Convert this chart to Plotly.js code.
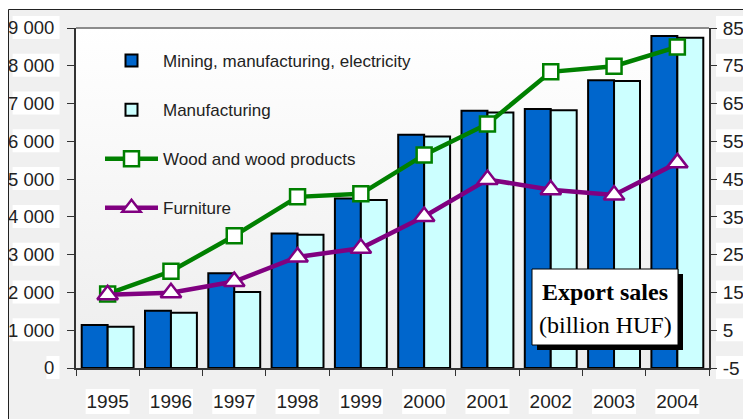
<!DOCTYPE html>
<html>
<head>
<meta charset="utf-8">
<script src="https://cdn.plot.ly/plotly-3.0.1.min.js"></script>
<style>
  html, body { margin: 0; padding: 0; background: #ffffff; }
  #chart { width: 743px; height: 419px; }
</style>
</head>
<body>
<div id="chart"></div>
<script>
// ---- data ----
const years = ['1995','1996','1997','1998','1999','2000','2001','2002','2003','2004'];
const miningManufElectricity = [1140, 1515, 2505, 3560, 4490, 6175, 6810, 6855, 7620, 8785];
const manufacturing = [1090, 1465, 2010, 3525, 4445, 6130, 6760, 6825, 7595, 8740];
const woodProducts = [14.6, 20.6, 30.0, 40.3, 41.1, 51.4, 59.6, 73.4, 74.9, 80.0];
const furniture = [14.4, 14.9, 17.9, 24.4, 26.7, 35.1, 44.9, 42.2, 40.8, 49.3];
const leftTicks = [0, 1000, 2000, 3000, 4000, 5000, 6000, 7000, 8000, 9000];
const leftTickText = ['0', '1 000', '2 000', '3 000', '4 000', '5 000', '6 000', '7 000', '8 000', '9 000'];
const rightTicks = [-5, 5, 15, 25, 35, 45, 55, 65, 75, 85];
const rightTickText = ['-5', '5', '15', '25', '35', '45', '55', '65', '75', '85'];
const legendNames = ['Mining, manufacturing, electricity', 'Manufacturing', 'Wood and wood products', 'Furniture'];
const boxLine1 = 'Export sales';
const boxLine2 = '(billion HUF)';

const SANS = '"Liberation Sans", Arial, Helvetica, sans-serif';
const SERIF = '"Liberation Serif", "Times New Roman", Times, serif';

const traces = [
  { type: 'bar', name: legendNames[0], x: years, y: miningManufElectricity,
    marker: { color: '#0066CC', line: { color: '#000000', width: 2 } }, legendgroup: 'a' },
  { type: 'bar', name: legendNames[1], x: years, y: manufacturing,
    marker: { color: '#CCFFFF', line: { color: '#000000', width: 2 } }, legendgroup: 'b' },
  { type: 'scatter', mode: 'lines+markers', name: legendNames[2], x: years, y: woodProducts, yaxis: 'y2',
    line: { color: '#008000', width: 4.5 },
    marker: { symbol: 'square', size: 15, color: '#ffffff', line: { color: '#008000', width: 2.5 } }, legendgroup: 'c' },
  { type: 'scatter', mode: 'lines+markers', name: legendNames[3], x: years, y: furniture, yaxis: 'y2',
    line: { color: '#800080', width: 4.5 },
    marker: { symbol: 'triangle-up', size: 18, color: '#ffffff', line: { color: '#800080', width: 2.5 } }, legendgroup: 'd' }
];

const W = 743, H = 419, ML = 76, MR = 34, MT = 28, MB = 51;
const PW = W - ML - MR, PH = H - MT - MB;
const px = v => (v - ML) / PW;
const py = v => (H - MB - v) / PH;

const gradSvg = "<svg xmlns='http://www.w3.org/2000/svg' width='10' height='100' preserveAspectRatio='none'>" +
  "<defs><linearGradient id='g' x1='0' y1='0' x2='0' y2='1'><stop offset='0' stop-color='#ffffff'/>" +
  "<stop offset='1' stop-color='#ededed'/></linearGradient></defs><rect width='10' height='100' fill='url(#g)'/></svg>";

const shapes = [];
// white outer margin + frame
shapes.push({ type: 'rect', xref: 'paper', yref: 'paper', x0: px(-5), x1: px(8), y0: py(430), y1: py(-5), fillcolor: '#ffffff', line: { width: 0 }, layer: 'below' });
shapes.push({ type: 'rect', xref: 'paper', yref: 'paper', x0: px(-5), x1: px(760), y0: py(9), y1: py(-5), fillcolor: '#ffffff', line: { width: 0 }, layer: 'below' });
shapes.push({ type: 'line', xref: 'paper', yref: 'paper', x0: px(8.5), x1: px(8.5), y0: py(9.5), y1: py(430), line: { color: '#222222', width: 1 } });
shapes.push({ type: 'line', xref: 'paper', yref: 'paper', x0: px(8.5), x1: px(760), y0: py(9.5), y1: py(9.5), line: { color: '#222222', width: 1 } });
// white boxes behind tick labels
leftTicks.forEach((t, i) => {
  const s = leftTickText[i];
  const w = s.replace(/ /g, '').length * 9.6 + (s.split(' ').length - 1) * 5 + 3;
  const yc = 368 - t / 1000 * 37.78;
  shapes.push({ type: 'rect', xref: 'paper', yref: 'paper', x0: px(59 - w), x1: px(59.5), y0: py(yc + 11), y1: py(yc - 12), fillcolor: '#ffffff', line: { width: 0 }, layer: 'below' });
});
rightTicks.forEach(t => {
  const yc = 368 - (t + 5) * 3.778;
  shapes.push({ type: 'rect', xref: 'paper', yref: 'paper', x0: px(716), x1: px(760), y0: py(yc + 11), y1: py(yc - 12), fillcolor: '#ffffff', line: { width: 0 }, layer: 'below' });
});
years.forEach((y, i) => {
  const xc = ML + (i + 0.5) * PW / years.length;
  shapes.push({ type: 'rect', xref: 'paper', yref: 'paper', x0: px(xc - 22), x1: px(xc + 22), y0: py(414), y1: py(389), fillcolor: '#ffffff', line: { width: 0 }, layer: 'below' });
});
// top border of plot
shapes.push({ type: 'line', xref: 'paper', yref: 'paper', x0: 0, x1: 1, y0: 1, y1: 1, line: { color: '#8c8c8c', width: 2 } });
// export sales box with shadow
shapes.push({ type: 'rect', xref: 'paper', yref: 'paper', x0: px(537), x1: px(683), y0: py(350), y1: py(274), fillcolor: '#000000', line: { width: 0 } });
shapes.push({ type: 'rect', xref: 'paper', yref: 'paper', x0: px(532), x1: px(678), y0: py(345), y1: py(269), fillcolor: '#ffffff', line: { color: '#000000', width: 1 } });

const layout = {
  width: W, height: H,
  margin: { l: ML, r: MR, t: MT, b: MB, pad: 0 },
  paper_bgcolor: '#f0f0f0',
  plot_bgcolor: 'rgba(0,0,0,0)',
  barmode: 'group', bargap: 0.18, bargroupgap: 0,
  showlegend: true,
  legend: { x: px(100), y: py(43), xanchor: 'left', yanchor: 'top', bgcolor: 'rgba(0,0,0,0)',
    font: { family: SANS, size: 17, color: '#222222' }, itemwidth: 53, tracegroupgap: 24, traceorder: 'grouped' },
  xaxis: { type: 'category', range: [-0.5, 9.5], tickson: 'boundaries', ticks: 'outside', ticklen: 6, tickcolor: '#333333',
    showline: true, linecolor: '#333333', linewidth: 2, showgrid: false, zeroline: false,
    tickfont: { family: SANS, size: 19, color: '#222222' }, ticklabelstandoff: 15, automargin: false },
  yaxis: { range: [0, 9000], tickmode: 'array', tickvals: leftTicks, ticktext: leftTickText,
    ticks: 'outside', ticklen: 7, tickcolor: '#333333', showline: true, linecolor: '#333333', linewidth: 2,
    showgrid: false, zeroline: false, tickfont: { family: SANS, size: 18.5, color: '#222222' }, ticklabelstandoff: 9, automargin: false },
  yaxis2: { range: [-5, 85], overlaying: 'y', side: 'right', tickmode: 'array', tickvals: rightTicks, ticktext: rightTickText,
    ticks: 'outside', ticklen: 6, tickcolor: '#333333', showline: true, linecolor: '#333333', linewidth: 2,
    showgrid: false, zeroline: false, tickfont: { family: SANS, size: 19, color: '#222222' }, ticklabelstandoff: 2, automargin: false },
  images: [{ source: 'data:image/svg+xml;charset=utf-8,' + encodeURIComponent(gradSvg), xref: 'paper', yref: 'paper',
    x: 0, y: 1, sizex: 1, sizey: 1, xanchor: 'left', yanchor: 'top', sizing: 'stretch', layer: 'below' }],
  shapes: shapes,
  annotations: [
    { xref: 'paper', yref: 'paper', x: px(605), y: py(292), text: '<b>' + boxLine1 + '</b>', showarrow: false,
      font: { family: SERIF, size: 24, color: '#000000' }, xanchor: 'center', yanchor: 'middle' },
    { xref: 'paper', yref: 'paper', x: px(605), y: py(325), text: boxLine2, showarrow: false,
      font: { family: SERIF, size: 24, color: '#000000' }, xanchor: 'center', yanchor: 'middle' }
  ]
};

Plotly.newPlot('chart', traces, layout, { displayModeBar: false, staticPlot: true });
</script>
</body>
</html>
